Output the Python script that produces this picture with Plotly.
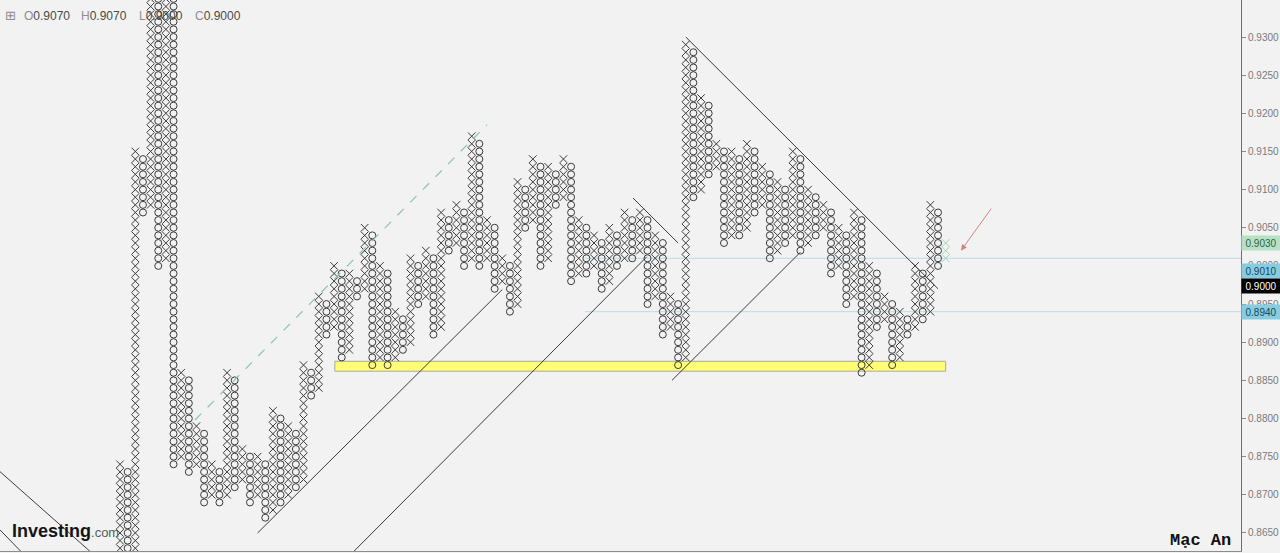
import plotly.graph_objects as go

# ---------------- data ----------------
BOX = 0.0010
# point & figure columns (1-based index), alternating X / O starting with X
col_types = ["X", "O"] * 54
col_low = [
    0.8600, 0.8600, 0.8610, 0.9070, 0.9080, 0.9000, 0.9010, 0.8740, 0.8750, 0.8730,
    0.8740, 0.8690, 0.8700, 0.8690, 0.8700, 0.8710, 0.8720, 0.8690, 0.8700, 0.8670,
    0.8680, 0.8690, 0.8700, 0.8710, 0.8720, 0.8830, 0.8840, 0.8910, 0.8920, 0.8880,
    0.8890, 0.8960, 0.8970, 0.8870, 0.8880, 0.8870, 0.8880, 0.8890, 0.8900, 0.8950,
    0.8960, 0.8910, 0.8920, 0.9020, 0.9030, 0.9000, 0.9010, 0.9000, 0.9010, 0.8970,
    0.8980, 0.8940, 0.8950, 0.9050, 0.9060, 0.9000, 0.9010, 0.9080, 0.9090, 0.8980,
    0.8990, 0.8990, 0.9000, 0.8970, 0.8980, 0.9000, 0.9010, 0.9010, 0.9020, 0.8950,
    0.8960, 0.8910, 0.8920, 0.8870, 0.8880, 0.9090, 0.9100, 0.9120, 0.9130, 0.9030,
    0.9040, 0.9040, 0.9050, 0.9070, 0.9080, 0.9010, 0.9020, 0.9030, 0.9040, 0.9020,
    0.9030, 0.9040, 0.9050, 0.8990, 0.9000, 0.8950, 0.8960, 0.8860, 0.8870, 0.8920,
    0.8930, 0.8870, 0.8880, 0.8910, 0.8920, 0.8930, 0.8940, 0.9000,
]
col_high = [
    0.8740, 0.8730, 0.9150, 0.9140, 0.9400, 0.9390, 0.9400, 0.9390, 0.8860, 0.8850,
    0.8790, 0.8780, 0.8740, 0.8730, 0.8860, 0.8850, 0.8760, 0.8750, 0.8750, 0.8740,
    0.8810, 0.8800, 0.8790, 0.8780, 0.8870, 0.8860, 0.8960, 0.8950, 0.9000, 0.8990,
    0.8990, 0.8980, 0.9050, 0.9040, 0.9000, 0.8990, 0.8940, 0.8930, 0.9010, 0.9000,
    0.9020, 0.9010, 0.9070, 0.9060, 0.9080, 0.9070, 0.9170, 0.9160, 0.9060, 0.9050,
    0.9010, 0.9000, 0.9110, 0.9100, 0.9140, 0.9130, 0.9130, 0.9120, 0.9140, 0.9130,
    0.9060, 0.9050, 0.9040, 0.9030, 0.9050, 0.9040, 0.9070, 0.9060, 0.9070, 0.9060,
    0.9040, 0.9030, 0.8960, 0.8950, 0.9290, 0.9280, 0.9220, 0.9210, 0.9160, 0.9150,
    0.9150, 0.9140, 0.9160, 0.9150, 0.9130, 0.9120, 0.9110, 0.9100, 0.9150, 0.9140,
    0.9100, 0.9090, 0.9080, 0.9070, 0.9050, 0.9040, 0.9070, 0.9060, 0.9000, 0.8990,
    0.8960, 0.8950, 0.8940, 0.8930, 0.9000, 0.8990, 0.9080, 0.9070,
]
# projected reversal column (faint green)
proj_col = 109
proj_low = 0.9010
proj_high = 0.9030

# y axis ticks
tick_vals = [0.8650, 0.8700, 0.8750, 0.8800, 0.8850, 0.8900, 0.8950,
             0.9000, 0.9050, 0.9100, 0.9150, 0.9200, 0.9250, 0.9300]

# highlighted price labels on the axis: (price, background, text colour, pixel push to avoid overlap)
price_tags = [
    (0.9030, "#b7e1c6", "#2f6444", 0),
    (0.9010, "#86cde2", "#1d4756", -13),
    (0.9000, "#000000", "#ffffff", -20),
    (0.8940, "#86cde2", "#1d4756", 0),
]

# drawn trend lines in (column, price) units
trend_lines = [
    ((-15.0, 0.8733), (-2.6, 0.8623)),
    ((-14.7, 0.8654), (-11.6, 0.8622)),
    ((19.0, 0.8650), (51.0, 0.8969)),
    ((31.5, 0.8625), (69.9, 0.9012)),
    ((68.1, 0.9089), (74.0, 0.9030)),
    ((73.2, 0.8850), (90.0, 0.9018)),
    ((75.0, 0.9300), (108.0, 0.8970)),
]
dashed_line = ((10.8, 0.8798), (49.0, 0.9185))
support_zone = (29.1, 109.0, 0.8862, 0.8875)
level_lines = [(61.8, 0.9010), (61.8, 0.8940)]
arrow_head = (111.0, 0.9020)
arrow_tail = (115.1, 0.9077)

ohlc_text = [("O", "0.9070"), ("H", "0.9070"), ("L", "0.9000"), ("C", "0.9000")]

# ---------------- layout geometry ----------------
W, H = 1280, 553
ML, MR, MT, MB = 0, 39, 0, 2
PW, PH = W - ML - MR, H - MT - MB
X_RANGE = [-14.70, 147.63]
Y_RANGE = [0.862634, 0.934849]


def px_x(px):
    return (px - ML) / PW


def px_y(py):
    return 1 - (py - MT) / PH


# ---------------- build boxes ----------------
xs_x, ys_x, xs_o, ys_o = [], [], [], []
for i, (t, lo, hi) in enumerate(zip(col_types, col_low, col_high), start=1):
    n = int(round((hi - lo) / BOX))
    for k in range(n + 1):
        v = round(lo + k * BOX, 4)
        if t == "X":
            xs_x.append(i)
            ys_x.append(v)
        else:
            xs_o.append(i)
            ys_o.append(v)

proj_n = int(round((proj_high - proj_low) / BOX))
proj_y = [round(proj_low + k * BOX, 4) for k in range(proj_n + 1)]
proj_x = [proj_col] * len(proj_y)

ink = "#3a3a3a"
fig = go.Figure()

fig.add_trace(go.Scatter(
    x=xs_x, y=ys_x, mode="markers",
    marker=dict(symbol="x-thin-open", size=7.5, line=dict(width=1, color=ink), color=ink),
    hoverinfo="skip"))
fig.add_trace(go.Scatter(
    x=xs_o, y=ys_o, mode="markers",
    marker=dict(symbol="circle-open", size=7, line=dict(width=1, color=ink), color=ink),
    hoverinfo="skip"))
fig.add_trace(go.Scatter(
    x=proj_x, y=proj_y, mode="markers",
    marker=dict(symbol="x-thin-open", size=7.5, line=dict(width=1, color="#9fd6b8"), color="#9fd6b8"),
    hoverinfo="skip"))

shapes = []
# support zone
x0, x1, y0, y1 = support_zone
shapes.append(dict(type="rect", xref="x", yref="y", x0=x0, x1=x1, y0=y0, y1=y1,
                   fillcolor="rgba(255,255,110,0.95)", line=dict(color="#a8a8a0", width=1),
                   layer="below"))
for (ax0, ay0), (ax1, ay1) in trend_lines:
    shapes.append(dict(type="line", xref="x", yref="y", x0=ax0, y0=ay0, x1=ax1, y1=ay1,
                       line=dict(color="#3c3c3c", width=1)))
(dx0, dy0), (dx1, dy1) = dashed_line
shapes.append(dict(type="line", xref="x", yref="y", x0=dx0, y0=dy0, x1=dx1, y1=dy1,
                   line=dict(color="#8ec2ae", width=1.2, dash="dash")))
for lx, ly in level_lines:
    shapes.append(dict(type="line", xref="x", yref="y", x0=lx, y0=ly, x1=X_RANGE[1], y1=ly,
                       line=dict(color="#b9dbe9", width=1), layer="below"))

annotations = []
# OHLC header
annotations.append(dict(xref="paper", yref="paper", x=px_x(3), y=px_y(15.5), xanchor="left",
                        yanchor="middle", text="⊞", showarrow=False,
                        font=dict(size=13, color="#8c8c8c", family="DejaVu Sans")))
ohlc_x = [21.5, 79, 136.5, 192.5]
for (lab, val), ox in zip(ohlc_text, ohlc_x):
    annotations.append(dict(xref="paper", yref="paper", x=px_x(ox), y=px_y(16), xanchor="left",
                            yanchor="middle", showarrow=False,
                            text=f"<span style='color:#8e8e8e'>{lab}</span>{val}",
                            font=dict(size=12, color="#4a4a4a", family="Liberation Sans")))
# Investing.com logo
annotations.append(dict(xref="paper", yref="paper", x=px_x(10), y=px_y(531), xanchor="left",
                        yanchor="middle", showarrow=False,
                        text="<b>Investing</b><span style='font-size:13px;color:#5a5a5a'>.com</span>",
                        font=dict(size=18, color="#151515", family="Liberation Sans")))
# author
annotations.append(dict(xref="paper", yref="paper", x=px_x(1233), y=px_y(540), xanchor="right",
                        yanchor="middle", showarrow=False, text="<b>Mạc An</b>",
                        font=dict(size=17, color="#111111", family="Liberation Mono")))
# arrow
annotations.append(dict(xref="x", yref="y", x=arrow_head[0], y=arrow_head[1],
                        axref="x", ayref="y", ax=arrow_tail[0], ay=arrow_tail[1],
                        showarrow=True, arrowhead=2, arrowsize=1.2, arrowwidth=1,
                        arrowcolor="#d08585", text=""))
# price tags
for price, bg, fg, shift in price_tags:
    annotations.append(dict(xref="paper", yref="y", x=1, y=price, xanchor="left", yanchor="middle",
                            yshift=shift, showarrow=False, text=f"{price:.4f}", bgcolor=bg,
                            width=36, height=12, borderpad=1, align="center",
                            font=dict(size=10, color=fg, family="Liberation Sans")))

fig.update_layout(
    width=W, height=H,
    margin=dict(l=ML, r=MR, t=MT, b=MB, pad=0),
    paper_bgcolor="#f2f2f2", plot_bgcolor="#f2f2f2",
    showlegend=False, hovermode=False,
    shapes=shapes, annotations=annotations,
    xaxis=dict(range=X_RANGE, showgrid=False, zeroline=False, showticklabels=False,
               ticks="", showline=True, linecolor="#8c8c8c", linewidth=1, fixedrange=True),
    yaxis=dict(range=Y_RANGE, side="right", showgrid=False, zeroline=False,
               tickvals=tick_vals, tickformat=".4f", ticks="outside", ticklen=4,
               tickcolor="#8c8c8c", showline=True, linecolor="#6e6e6e", linewidth=1,
               tickfont=dict(size=10, color="#7a7a7a", family="Liberation Sans"),
               fixedrange=True),
)

fig.write_html(
    "out.html",
    config={"displayModeBar": False, "staticPlot": True},
    post_script="document.body.style.margin='0';document.body.style.padding='0';"
                "document.body.style.background='#f2f2f2';",
)
